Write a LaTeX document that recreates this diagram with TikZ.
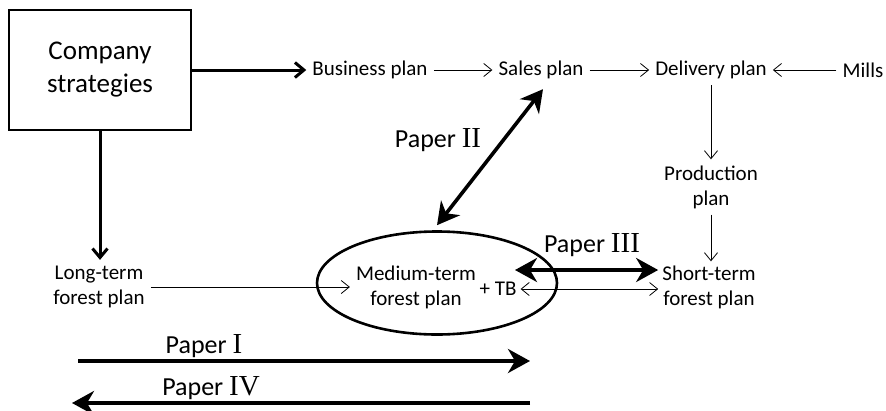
\documentclass[tikz,border=0pt]{standalone}
\usepackage{fontspec}
\setmainfont{Carlito}
\newfontfamily\romfont{Liberation Serif}
\usetikzlibrary{arrows.meta,shapes.geometric}

\newcommand{\papr}[1]{\fontsize{26}{30}\selectfont Paper {\fontsize{29}{30}\selectfont\romfont #1}}

\begin{document}
\begin{tikzpicture}[x=1pt, y=-1pt,
    lbl/.style={font=\fontsize{21}{25}\selectfont, align=center, inner sep=6pt},
    thinarr/.style={line width=0.8pt, -{Straight Barb[length=8pt,width=13pt]}},
    thickarr/.style={line width=3pt, -{Straight Barb[length=9pt,width=15pt]}},
    paper/.style={line width=3.6pt, -{Stealth[length=22pt,width=24pt,inset=7pt]}},
    paperboth/.style={line width=3.6pt, {Stealth[length=22pt,width=24pt,inset=7pt]}-{Stealth[length=22pt,width=24pt,inset=7pt]}}]
	\useasboundingbox (0,0) rectangle (886,410);
	% top row
	\node[draw, line width=1.6pt, minimum width=182pt, minimum height=120pt, align=center,
	      font=\fontsize{27}{33}\selectfont] (comp) at (100,70) {Company\\strategies};
	\node[lbl] (bus) at (370,70) {Business plan};
	\node[lbl] (sales) at (541,70) {Sales plan};
	\node[lbl] (deliv) at (711,70) {Delivery plan};
	\node[lbl] (mills) at (863,70) {Mills};
	\node[lbl] (prod) at (711,187) {Production\\plan};
	% forest plans
	\node[lbl] (long) at (99,287) {Long-term\\forest plan};
	\node[lbl] (mid) at (416,287) {Medium-term\\forest plan};
	\node[lbl, inner sep=4pt] (tb) at (498,289) {+ TB};
	\node[lbl, inner sep=4pt] (short) at (709,287) {Short-term\\forest plan};
	\node[draw, ellipse, line width=2.6pt, minimum width=240pt, minimum height=103pt] (ell) at (437,283) {};
	% flows
	\draw[thickarr] (comp) -- (bus);
	\draw[thickarr] (comp.south) -- (comp.south |- long.north);
	\draw[thinarr] (bus) -- (sales);
	\draw[thinarr] (sales) -- (deliv);
	\draw[thinarr] (mills) -- (deliv);
	\draw[thinarr] (deliv) -- (prod);
	\draw[thinarr] (prod) -- (prod |- short.north);
	\draw[thinarr] (long) -- (mid);
	\draw[thinarr, {Straight Barb[length=8pt,width=13pt]}-{Straight Barb[length=8pt,width=13pt]}] (tb.east) -- (tb.east -| short.west);
	% papers
	\draw[paperboth] ([yshift=5pt]ell.north) -- ([xshift=2pt,yshift=-4pt]sales.south);
	\node (p2) at (438,140) {\papr{II}};
	\coordinate (p3l) at (515,270);
	\draw[paperboth] (p3l) -- (p3l -| short.west);
	\node (p3) at (592,245) {\papr{III}};
	\coordinate (p1a) at (78,361);
	\coordinate (p1b) at (530,361);
	\draw[paper] (p1a) -- (p1b);
	\node (p1) at (204,346) {\papr{I}};
	\coordinate (p4a) at (530,403);
	\coordinate (p4b) at (72,403);
	\draw[paper] (p4a) -- (p4b);
	\node (p4) at (211,388) {\papr{IV}};
\end{tikzpicture}
\end{document}
